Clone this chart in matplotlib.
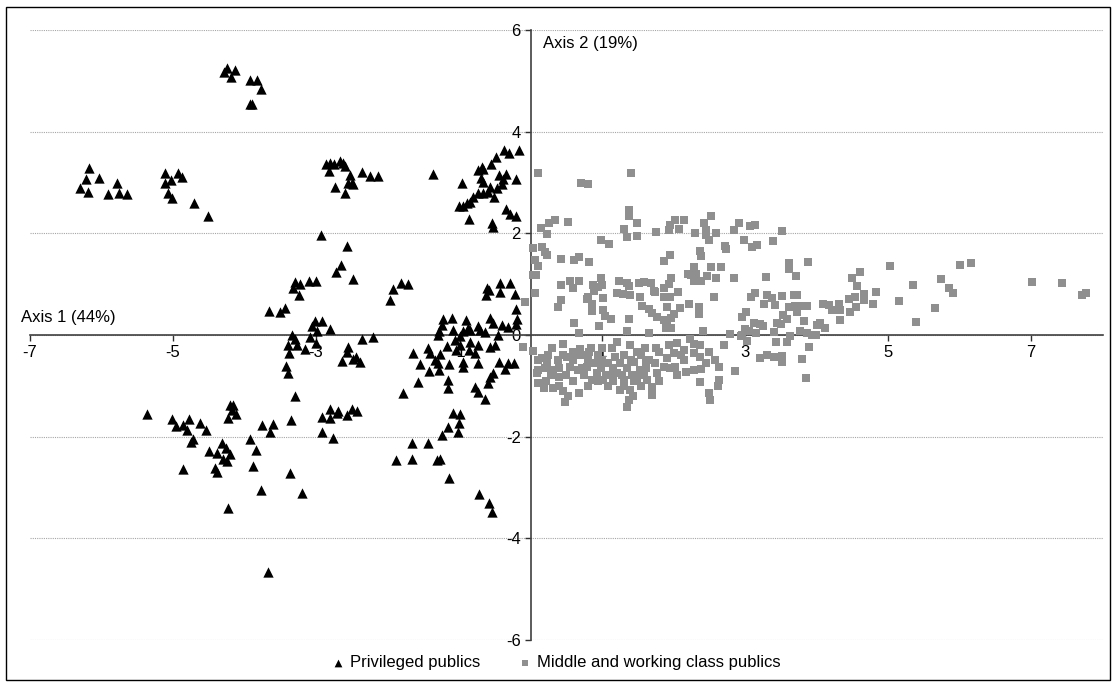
from matplotlib import pyplot as plt
from matplotlib.patches import Rectangle
import numpy as np

plt.rcParams['font.family'] = ['Liberation Sans', 'DejaVu Sans']
plt.rcParams['axes.unicode_minus'] = False

#%% Data
priv_x = [-4.25, -4.13, -4.19, -4.29, -3.93, -3.82, -3.77, -3.93, -3.90,
          -6.18, -6.22, -6.04, -6.30, -6.19, -5.91, -5.78, -5.76, -5.64, -5.11, -4.93, -4.87, -5.03, -5.11, -5.07, -5.02, -4.71, -4.51,
          -2.86, -2.80, -2.75, -2.66, -2.62, -2.60, -2.82, -2.52, -2.50, -2.55, -2.48, -2.36, -2.25, -2.13, -2.74, -2.59, -1.37,
          -0.37, -0.30, -0.16, -0.48, -0.56, -0.68, -0.73, -0.66, -0.69, -0.66, -0.44, -0.34, -0.38, -0.40, -0.20, -0.96, -0.57, -0.47,
          -0.73, -0.66, -0.59, -0.51, -0.81, -0.85, -0.89, -1.00, -0.94, -0.86, -0.34, -0.29, -0.21, -0.54, -0.53,
          -2.93, -2.57,
          -2.65, -2.72, -2.48, -3.30, -3.23, -3.32, -3.24, -3.10, -3.00, -3.66, -3.51, -3.43, -1.93, -1.81, -1.71, -1.96,
          -3.06, -3.01, -2.91, -2.80, -2.98, -3.08, -3.33, -3.30, -3.39, -3.27, -3.00, -3.15, -3.38, -3.42, -3.39, -3.29,
          -2.36, -2.21, -2.55, -2.57, -2.63, -2.48, -2.39, -2.44,
          -0.61, -0.58, -0.43, -0.29, -0.62, -0.43, -0.22, -0.20, -0.19, -0.20,
          -1.22, -1.10, -1.24, -1.09, -1.28, -1.30, -0.90, -0.88, -0.85, -0.73, -0.71, -0.64, -0.57, -0.52, -0.40, -0.31, -0.45,
          -0.99, -0.94, -1.05, -0.85, -1.17, -0.99, -0.73, -0.86, -1.04, -1.43, -1.41, -1.26, -1.65, -1.34, -1.29, -1.14, -0.94,
          -0.78, -0.73, -0.94, -1.55, -1.42, -1.28, -0.57, -0.50, -0.44, -0.32, -0.23, -0.36, -0.52, -0.57, -0.60, -1.57, -1.15,
          -1.16, -1.79, -0.78, -0.74, -0.64,
          -5.37, -5.02, -4.96, -4.86, -4.77, -4.81, -4.62, -4.54, -4.72, -4.75, -4.86, -4.20, -4.16, -4.18, -4.12, -4.23, -4.32,
          -4.49, -4.39, -4.26, -4.20, -4.30, -4.25, -4.41, -4.38, -3.93, -3.84, -3.88, -4.23, -3.67, -3.77, -3.35, -3.19, -3.36,
          -3.76, -3.60, -3.65, -2.92, -2.81, -2.81, -2.71, -2.69, -2.56, -2.49, -2.43, -2.91, -2.76, -1.88,
          -1.08, -0.99, -1.00, -1.16, -1.01, -1.24, -1.66, -1.43, -1.66, -1.31, -1.27, -1.14, -0.72, -0.58, -0.54]
priv_y = [5.25, 5.22, 5.07, 5.18, 5.02, 5.02, 4.84, 4.55, 4.55,
          3.29, 3.06, 3.08, 2.89, 2.82, 2.78, 2.99, 2.79, 2.78, 3.19, 3.18, 3.10, 3.04, 2.99, 2.80, 2.69, 2.59, 2.34,
          3.37, 3.39, 3.37, 3.43, 3.38, 3.33, 3.23, 3.15, 3.00, 3.00, 2.97, 3.21, 3.12, 3.13, 2.91, 2.80, 3.17,
          3.64, 3.59, 3.64, 3.50, 3.37, 3.30, 3.25, 3.26, 3.08, 3.02, 3.15, 3.17, 3.06, 2.97, 3.06, 2.99, 2.92, 2.89,
          2.80, 2.80, 2.82, 2.72, 2.72, 2.62, 2.59, 2.54, 2.53, 2.28, 2.47, 2.38, 2.34, 2.20, 2.13,
          1.97, 1.75,
          1.38, 1.23, 1.10, 1.04, 1.00, 0.92, 0.79, 1.07, 1.07, 0.48, 0.45, 0.53, 0.91, 1.02, 1.00, 0.68,
          0.18, 0.28, 0.28, 0.12, 0.07, -0.03, 0.00, -0.07, -0.20, -0.20, -0.16, -0.28, -0.36, -0.61, -0.75, -1.19,
          -0.08, -0.03, -0.23, -0.33, -0.51, -0.48, -0.53, -0.43,
          0.92, 0.89, 1.02, 1.02, 0.79, 0.85, 0.81, 0.51, 0.31, 0.22,
          0.31, 0.33, 0.20, 0.10, 0.08, 0.00, 0.30, 0.13, 0.10, 0.18, 0.10, 0.05, 0.33, 0.23, 0.20, 0.15, 0.00,
          -0.02, 0.08, -0.10, -0.13, -0.22, -0.20, -0.20, -0.30, -0.30, -0.26, -0.35, -0.37, -0.35, -0.49, -0.55, -0.57, -0.53,
          -0.36, -0.55, -0.62, -0.57, -0.70, -0.68, -0.23, -0.20, -0.53, -0.55, -0.56, -0.66, -0.75, -0.82, -0.95, -0.92, -0.89,
          -1.05, -1.14, -1.02, -1.12, -1.25,
          -1.56, -1.66, -1.79, -1.77, -1.66, -1.86, -1.74, -1.86, -2.05, -2.10, -2.64, -1.38, -1.38, -1.48, -1.56, -1.64, -2.12,
          -2.28, -2.33, -2.23, -2.34, -2.43, -2.47, -2.62, -2.69, -2.05, -2.26, -2.58, -3.41, -4.66, -3.05, -1.67, -3.10, -2.71,
          -1.77, -1.76, -1.90, -1.61, -1.46, -1.64, -1.53, -1.49, -1.57, -1.46, -1.49, -1.90, -2.03, -2.46,
          -1.54, -1.56, -1.74, -1.80, -1.90, -1.97, -2.12, -2.13, -2.43, -2.46, -2.43, -2.81, -3.12, -3.30, -3.48]

mid_x = [0.11, 1.41, 0.71, 0.80, 1.38, 1.38, 1.49, 0.52, 0.34, 0.26, 0.14, 0.23, 1.31, 1.35, 1.49, 1.76, 1.93, 1.95, 2.02,
         2.07, 2.15, 2.30, 2.42, 2.53, 2.45, 2.46, 2.59, 2.50, 2.84, 2.92, 3.07, 3.14, 2.99, 3.10, 3.17, 2.72, 2.73, 0.99,
         1.10, 0.03, 0.16, 0.20, 0.23, 0.06, 0.11, 0.42, 0.61, 0.68, 0.82, 2.37, 2.39, 1.95, 1.87, 0.03, 0.08, 2.20, 2.28,
         2.25, 2.32, 2.28, 2.39, 2.52, 2.47, 2.60, 2.67, 2.85, 0.42, 0.55, 0.59, 0.68, 0.87, 0.95, 0.99, 1.00, 0.89, 0.81,
         0.79, 0.86, 0.86, 1.02, 1.24, 1.35, 1.37, 1.21, 1.29, 1.39, 1.51, 1.59, 1.69, 1.72, 1.74, 1.96, 1.93, 1.87, 2.06,
         1.53, 1.87, 1.95, 2.56, 0.42, 0.38, 0.06, -0.08, 1.02, 1.04, 1.12, 1.56, 1.65, 1.70, 1.77, 1.86, 1.91, 1.97, 2.01,
         2.09, 2.21, 2.36, 2.35, 1.91, 1.89, 1.97, 0.61, 0.96, 0.68, 1.37, 1.35, 1.66, 2.41, 2.79, 2.95, 3.01, 2.95, 3.08,
         3.14, 3.12, 3.15,
         2.94, -0.11, 0.04, 0.46, 0.30, 0.11, 0.09, 0.11, 0.19, 0.32, 0.46, 0.68, 0.48, 0.53, 0.16, 0.23, 0.32, 0.40, 0.38,
         0.51, 0.60, 0.69, 0.82, 0.55, 0.67, 0.79, 0.90, 0.93, 0.86, 1.02, 1.11, 1.14, 1.21, 1.18, 1.09, 1.25, 1.21, 1.30,
         1.25, 1.39, 1.37, 1.35, 1.43, 1.39, 1.49, 1.44, 1.53, 1.49, 1.63, 1.70, 1.70, 1.62, 1.74, 1.79, 1.91, 1.86, 1.77,
         2.00, 2.02, 1.93, 2.05, 2.14, 2.18, 2.28, 2.39, 2.23, 2.28, 2.37, 2.28, 2.37, 2.49, 2.37, 2.46, 2.58, 2.70, 2.63,
         2.86, 2.64, 2.62, 2.49, 2.51, 3.21, 3.02,
         0.25, 0.45, 0.70, 0.95, 1.30, 1.55, 2.10, 0.10, 0.60, 0.80, 1.00, 1.40, 1.65, 2.15,
         0.20, 0.40, 0.72, 0.98, 1.15, 1.35, 1.62, 1.95, 0.28, 0.50, 0.75, 1.05, 1.28, 1.42, 1.58, 2.05,
         0.22, 0.60, 0.95, 1.15, 1.45, 1.80, 0.40, 0.80, 1.08, 1.30, 1.55, 0.85, 1.00, 1.60, 1.75,
         3.51, 3.39, 3.62, 3.62, 3.88, 3.29, 3.71, 4.49, 4.61, 4.56, 5.03, 5.35, 5.74, 5.85, 5.91, 6.01, 6.16, 7.01, 7.43,
         7.71, 7.77, 3.30, 3.37, 3.27, 3.42, 3.51, 3.69, 3.73, 3.62, 3.70, 3.79, 3.86, 3.72, 3.53, 3.58, 3.50, 3.44, 3.83,
         4.09, 4.18, 4.21, 4.32, 4.33, 4.45, 4.54, 4.66, 4.66, 4.55, 4.47, 4.83, 4.79, 5.15, 5.66, 5.39, 4.33, 3.00, 3.06,
         3.21, 3.25, 3.40, 3.63, 3.77, 3.86, 3.99, 4.05, 4.12, 4.00,
         3.43, 3.58, 3.93, 3.89, 3.30, 3.40, 3.51, 3.51, 3.79, 3.85]
mid_y = [3.18, 3.18, 3.00, 2.97, 2.46, 2.34, 2.20, 2.23, 2.26, 2.21, 2.11, 1.98, 2.08, 1.92, 1.94, 2.03, 2.07, 2.17, 2.26,
         2.08, 2.26, 2.00, 2.21, 2.34, 2.07, 1.97, 2.00, 1.86, 2.07, 2.20, 2.15, 2.17, 1.86, 1.74, 1.77, 1.75, 1.69, 1.87,
         1.79, 1.71, 1.73, 1.64, 1.57, 1.48, 1.36, 1.49, 1.48, 1.54, 1.44, 1.66, 1.56, 1.57, 1.46, 1.18, 1.18, 1.21, 1.33,
         1.18, 1.21, 1.07, 1.07, 1.33, 1.16, 1.12, 1.33, 1.12, 0.98, 1.07, 0.93, 1.07, 0.98, 0.95, 1.12, 0.98, 0.87, 0.75,
         0.70, 0.62, 0.48, 0.72, 1.07, 1.02, 0.96, 0.83, 0.81, 0.79, 1.03, 1.05, 1.03, 0.87, 0.85, 1.12, 1.00, 0.92, 0.85,
         0.74, 0.74, 0.74, 0.74, 0.69, 0.56, 0.82, 0.64, 0.49, 0.37, 0.31, 0.57, 0.51, 0.43, 0.36, 0.30, 0.24, 0.33, 0.41,
         0.53, 0.61, 0.56, 0.41, 0.56, 0.13, 0.13, 0.24, 0.18, 0.03, 0.31, 0.08, 0.03, 0.08, 0.02, 0.36, 0.46, 0.00, 0.74,
         0.82, 0.23, 0.03,
         -0.02, -0.24, -0.31, -0.18, -0.26, -0.68, -0.75, -0.95, -1.05, -1.05, -1.10, -1.14, -1.31, -1.20, -0.46, -0.56,
         -0.69, -0.82, -0.49, -0.43, -0.33, -0.28, -0.33, -0.62, -0.69, -0.62, -0.56, -0.75, -0.89, -0.89, -0.79, -0.26,
         -0.13, -0.43, -0.56, -0.56, -0.75, -0.89, -1.08, -1.08, -1.28, -1.42, -1.20, -0.20, -0.33, -0.53, -0.69, -0.85,
         -0.89, -1.02, -1.18, -0.49, -0.56, -0.33, -0.46, -0.62, -0.75, -0.36, -0.62, -0.20, -0.16, -0.30, -0.72, -0.69,
         -0.66, -0.07, -0.18, -0.20, -0.35, -0.43, -0.33, -0.92, -0.56, -0.49, -0.20, -0.62, -0.70, -0.89, -1.00, -1.15,
         -1.27, -0.46, -0.11,
         -0.40, -0.40, -0.40, -0.40, -0.40, -0.40, -0.40, -0.50, -0.50, -0.50, -0.50, -0.50, -0.50, -0.50,
         -0.65, -0.65, -0.65, -0.65, -0.65, -0.65, -0.65, -0.65, -0.78, -0.78, -0.78, -0.78, -0.78, -0.78, -0.78, -0.78,
         -0.90, -0.90, -0.90, -0.90, -0.90, -0.90, -1.00, -1.00, -1.00, -1.00, -1.00, -0.25, -0.25, -0.25, -0.25,
         2.05, 1.84, 1.41, 1.29, 1.44, 1.15, 1.17, 1.13, 1.23, 0.96, 1.36, 0.98, 1.10, 0.93, 0.83, 1.38, 1.42, 1.05, 1.03,
         0.79, 0.83, 0.79, 0.72, 0.62, 0.59, 0.77, 0.79, 0.79, 0.56, 0.57, 0.57, 0.57, 0.46, 0.39, 0.31, 0.22, 0.24, 0.28,
         0.61, 0.59, 0.49, 0.62, 0.49, 0.70, 0.75, 0.81, 0.69, 0.56, 0.46, 0.85, 0.61, 0.66, 0.53, 0.26, 0.30, 0.11, 0.07,
         0.22, 0.18, 0.05, -0.02, 0.08, 0.03, 0.00, 0.23, 0.13, 0.20,
         -0.13, -0.13, 0.00, -0.23, -0.39, -0.43, -0.41, -0.53, -0.48, -0.85]

x_ticks = [-7, -5, -3, -1, 1, 3, 5, 7]
y_ticks = [-6, -4, -2, 0, 2, 4, 6]

#%% Plot
fig = plt.figure(figsize=(11.15, 6.84), dpi=100)
ax = fig.add_axes([0.0269, 0.0643, 0.962, 0.8918])

ax.scatter(priv_x, priv_y, marker='^', s=55, color='black', linewidths=0,
           zorder=4, label='Privileged publics')
ax.scatter(mid_x, mid_y, marker='s', s=27, color='#8f8f8f', linewidths=0,
           zorder=4, label='Middle and working class publics')

ax.set_xlim(-7, 8)
ax.set_ylim(-6, 6)
ax.set_xticks(x_ticks)
ax.set_yticks(y_ticks)

for s in ['top', 'right']:
    ax.spines[s].set_visible(False)
ax.spines['left'].set_position(('data', 0))
ax.spines['bottom'].set_position(('data', 0))
for s in ['left', 'bottom']:
    ax.spines[s].set_color('#404040')
    ax.spines[s].set_linewidth(1.2)
    ax.spines[s].set_zorder(2)

ax.tick_params(direction='out', length=4, width=1, color='#303030',
               labelsize=12, pad=3)
ax.xaxis.set_zorder(1)
ax.yaxis.set_zorder(1)

ax.yaxis.grid(True, linestyle=(0, (1, 1)), color='#a6a6a6', linewidth=0.8)
ax.set_axisbelow(True)

ax.text(-7.12, 0.2, 'Axis 1 (44%)', fontsize=12, ha='left', va='bottom')
ax.text(0.17, 5.88, 'Axis 2 (19%)', fontsize=12, ha='left', va='top')

fig.legend(loc='center', bbox_to_anchor=(0.498, 0.031), ncol=2, frameon=False,
           fontsize=12, handletextpad=0.2, columnspacing=2.2, markerscale=0.75,
           handlelength=1.0)

# outer frame
fig.patches.append(Rectangle((6 / 1115, 4 / 684), 1104 / 1115, 673 / 684,
                             transform=fig.transFigure, fill=False,
                             edgecolor='black', linewidth=1))

fig.savefig('out.png', dpi=100)
